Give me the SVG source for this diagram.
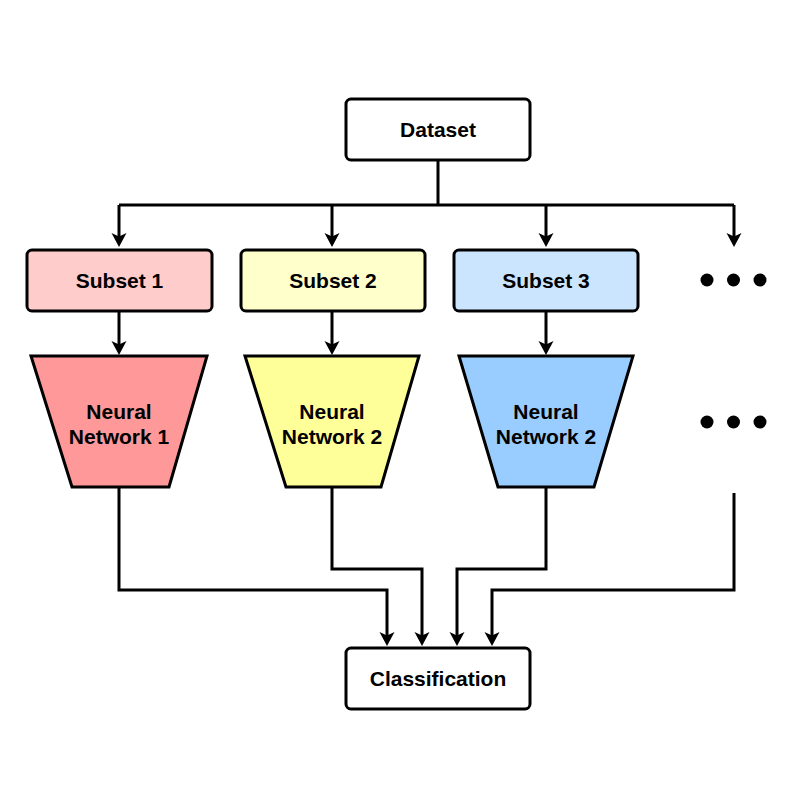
<svg xmlns="http://www.w3.org/2000/svg" width="800" height="800" viewBox="0 0 800 800">
<style>
.box{stroke:#000;stroke-width:3}
.lbl{font-family:"Liberation Sans",Arial,sans-serif;font-weight:bold;font-size:21px;fill:#000;text-anchor:middle}
.conn{fill:none;stroke:#000;stroke-width:3;stroke-linejoin:miter}
.dot{fill:#000}
</style>
<defs>
<marker id="arr" markerUnits="userSpaceOnUse" markerWidth="16" markerHeight="16" viewBox="0 0 16 16" refX="8" refY="8" orient="auto">
<path d="M14,8 L0,0.5 L3.5,8 L0,15.5 Z" fill="#000"/>
</marker>
</defs>
<rect width="800" height="800" fill="#fff"/>
<g id="connectors">
<path class="conn" d="M438,160 V205"/>
<path class="conn" d="M119,205 H734" />
<path class="conn" d="M119,205 V241" marker-end="url(#arr)"/>
<path class="conn" d="M332,205 V241" marker-end="url(#arr)"/>
<path class="conn" d="M546,205 V241" marker-end="url(#arr)"/>
<path class="conn" d="M734,205 V241" marker-end="url(#arr)"/>
<path class="conn" d="M119,311 V349" marker-end="url(#arr)"/>
<path class="conn" d="M332,311 V349" marker-end="url(#arr)"/>
<path class="conn" d="M546,311 V349" marker-end="url(#arr)"/>
<path class="conn" d="M119,487 V590 H387 V640" marker-end="url(#arr)"/>
<path class="conn" d="M332,487 V569 H422 V640" marker-end="url(#arr)"/>
<path class="conn" d="M546,487 V569 H457 V640" marker-end="url(#arr)"/>
<path class="conn" d="M734,493 V590 H492 V640" marker-end="url(#arr)"/>
</g>
<g id="dataset">
<rect class="box" x="346" y="99" width="184" height="61" rx="5" fill="#fff"/>
<text class="lbl" x="438" y="137">Dataset</text>
</g>
<g id="subset1">
<rect class="box" x="27" y="250" width="185" height="61" rx="5" fill="#ffcccc"/>
<text class="lbl" x="119.5" y="288">Subset 1</text>
</g>
<g id="subset2">
<rect class="box" x="241" y="250" width="184" height="61" rx="5" fill="#ffffcc"/>
<text class="lbl" x="333" y="288">Subset 2</text>
</g>
<g id="subset3">
<rect class="box" x="454" y="250" width="184" height="61" rx="5" fill="#cce5ff"/>
<text class="lbl" x="546" y="288">Subset 3</text>
</g>
<g id="nn1">
<polygon class="box" points="31,356 207,356 169,487 72,487" fill="#ff9999"/>
<text class="lbl" x="119" y="419">Neural</text>
<text class="lbl" x="119" y="444">Network 1</text>
</g>
<g id="nn2">
<polygon class="box" points="245,356 419,356 381,487 286,487" fill="#ffff99"/>
<text class="lbl" x="332" y="419">Neural</text>
<text class="lbl" x="332" y="444">Network 2</text>
</g>
<g id="nn3">
<polygon class="box" points="459,356 633,356 594,487 498,487" fill="#99ccff"/>
<text class="lbl" x="546" y="419">Neural</text>
<text class="lbl" x="546" y="444">Network 2</text>
</g>
<g id="dots1">
<circle class="dot" cx="707" cy="280" r="6.5"/>
<circle class="dot" cx="733.5" cy="280" r="6.5"/>
<circle class="dot" cx="760" cy="280" r="6.5"/>
</g>
<g id="dots2">
<circle class="dot" cx="707" cy="422" r="6.5"/>
<circle class="dot" cx="733.5" cy="422" r="6.5"/>
<circle class="dot" cx="760" cy="422" r="6.5"/>
</g>
<g id="classification">
<rect class="box" x="346" y="648" width="184" height="61" rx="5" fill="#fff"/>
<text class="lbl" x="438" y="686">Classification</text>
</g>
</svg>
